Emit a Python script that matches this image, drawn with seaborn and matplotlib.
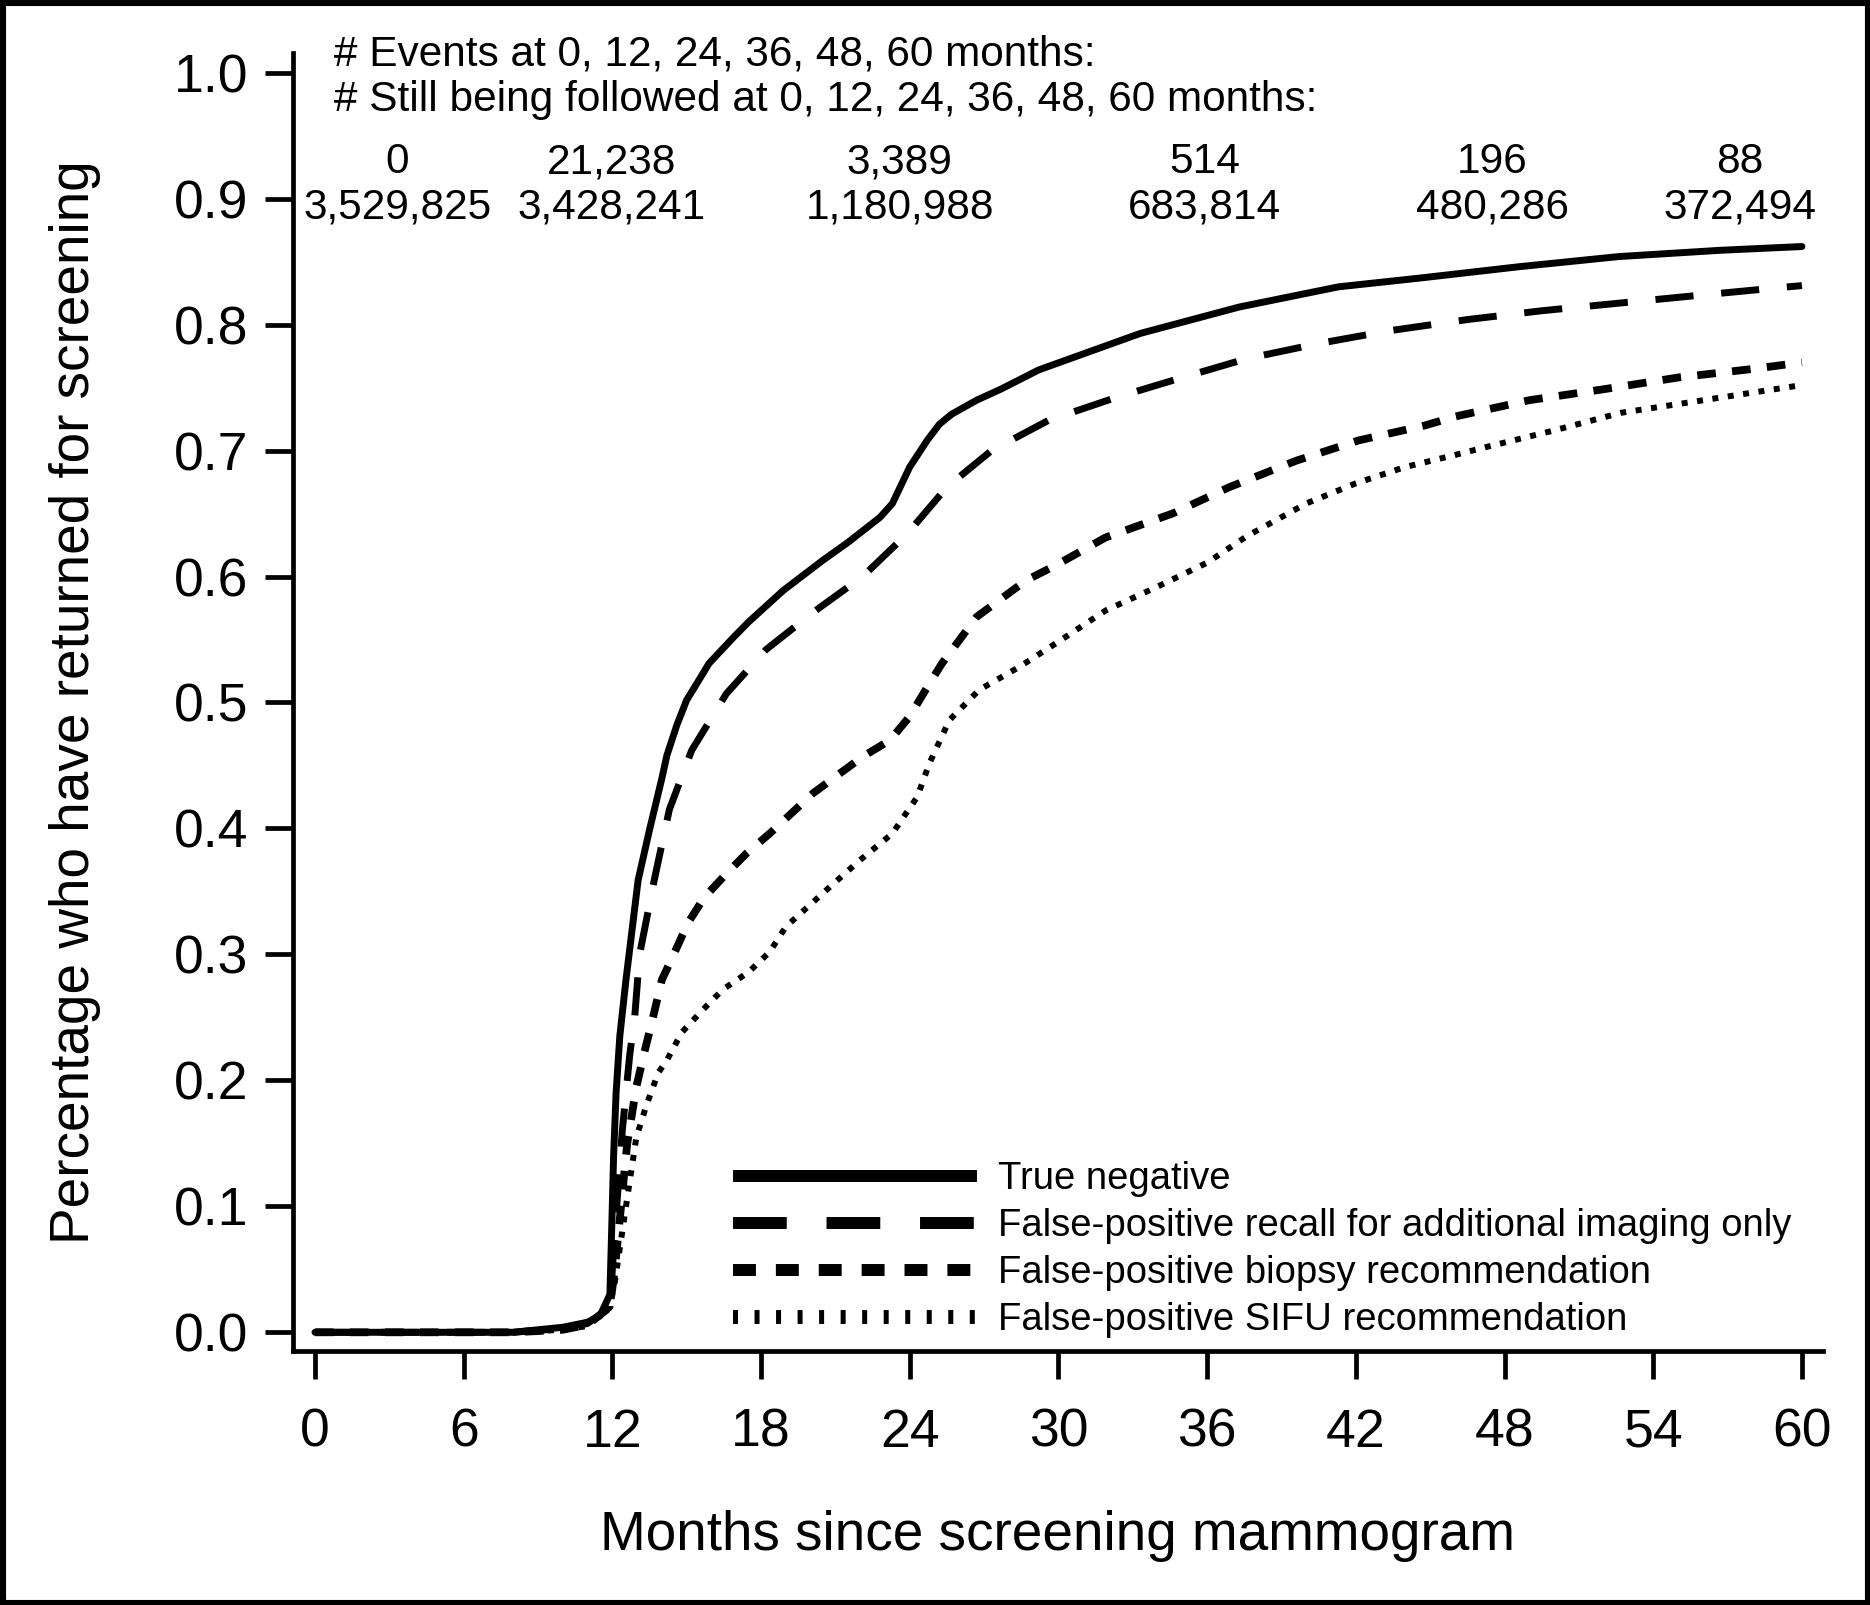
import numpy as np
import pandas as pd
import seaborn as sns
import matplotlib
matplotlib.use("Agg")
import matplotlib.pyplot as plt
from matplotlib.lines import Line2D
from matplotlib.patches import Rectangle

# data
tn_months = [0, 8, 9, 10, 11, 11.5, 11.9, 11.97, 12.05, 12.15, 12.3, 12.55, 13.04, 13.5, 14.0,
             14.2, 14.6, 15.0, 15.5, 15.9, 16.9, 17.5, 18.9, 20.5, 21.5, 22.8, 23.3, 24.0,
             24.7, 25.2, 25.7, 26.7, 27.7, 29.2, 33.3, 37.3, 41.3, 44.6, 48.6, 52.6, 56.7, 60]
tn_vals = [0, 0, 0.002, 0.004, 0.008, 0.013, 0.03, 0.08, 0.14, 0.19, 0.235, 0.28, 0.359,
           0.399, 0.44, 0.458, 0.482, 0.502, 0.518, 0.531, 0.552, 0.564, 0.589, 0.613,
           0.627, 0.647, 0.658, 0.687, 0.708, 0.721, 0.729, 0.740, 0.749, 0.764, 0.793,
           0.814, 0.830, 0.837, 0.846, 0.854, 0.859, 0.862]

rc_months = [0, 8, 10, 11, 11.9, 12.1, 12.4, 12.7, 12.9, 13.1, 13.7, 14.3, 15.2, 16.6, 18.2,
             20.2, 22.1, 23.9, 25.5, 27.3, 29.6, 32.3, 35.0, 37.6, 40.5, 43.3, 46.5, 49.5,
             52.6, 55.7, 58.9, 60]
rc_vals = [0, 0, 0.003, 0.007, 0.02, 0.08, 0.16, 0.22, 0.25, 0.30, 0.36, 0.415, 0.462,
           0.507, 0.542, 0.573, 0.600, 0.634, 0.671, 0.700, 0.724, 0.742, 0.758, 0.773,
           0.785, 0.795, 0.804, 0.811, 0.817, 0.823, 0.829, 0.831]

bx_months = [0, 8, 10, 11, 11.9, 12.1, 12.3, 12.6, 12.97, 13.3, 13.64, 14.0, 14.5, 15.05,
             15.7, 16.5, 17.4, 18.35, 20.1, 22.1, 23.2, 24.0, 24.7, 25.3, 26.7, 28.7, 29.9,
             31.9, 34.6, 36.9, 39.6, 42.1, 44.8, 46.0, 49.0, 52.1, 55.0, 58.1, 60]
bx_vals = [0, 0, 0.002, 0.006, 0.02, 0.05, 0.09, 0.15, 0.195, 0.223, 0.25, 0.28, 0.301,
           0.325, 0.345, 0.362, 0.380, 0.396, 0.428, 0.457, 0.470, 0.489, 0.512, 0.531,
           0.568, 0.597, 0.609, 0.631, 0.650, 0.671, 0.692, 0.708, 0.720, 0.727, 0.740,
           0.749, 0.758, 0.765, 0.770]

sf_months = [0, 8, 10, 11, 11.9, 12.1, 12.4, 12.7, 12.97, 13.37, 13.85, 14.2, 14.8, 15.6,
             16.45, 17.5, 18.35, 19.0, 20.8, 22.0, 23.3, 24.3, 24.8, 25.6, 26.8, 28.4, 29.9,
             31.9, 34.0, 36.0, 37.6, 40.0, 42.0, 44.0, 45.9, 47.3, 50.0, 52.7, 55.7, 58.0, 60]
sf_vals = [0, 0, 0.002, 0.005, 0.02, 0.04, 0.08, 0.12, 0.155, 0.180, 0.206, 0.216, 0.238,
           0.255, 0.272, 0.286, 0.302, 0.322, 0.354, 0.375, 0.396, 0.425, 0.452, 0.486,
           0.510, 0.528, 0.547, 0.573, 0.592, 0.611, 0.632, 0.658, 0.674, 0.687, 0.696,
           0.703, 0.716, 0.730, 0.739, 0.746, 0.752]

labels = ["True negative",
          "False-positive recall for additional imaging only",
          "False-positive biopsy recommendation",
          "False-positive SIFU recommendation"]

at_months = [0, 12, 24, 36, 48, 60]
events = ["0", "21,238", "3,389", "514", "196", "88"]
followed = ["3,529,825", "3,428,241", "1,180,988", "683,814", "480,286", "372,494"]

sns.set_style("ticks")
plt.rcParams['font.family'] = ['Liberation Sans', 'DejaVu Sans']
plt.rcParams['text.color'] = 'black'
plt.rcParams['axes.labelcolor'] = 'black'
plt.rcParams['axes.edgecolor'] = 'black'
plt.rcParams['xtick.color'] = 'black'
plt.rcParams['ytick.color'] = 'black'

fig = plt.figure(figsize=(18.7, 16.05), dpi=100)
ax = fig.add_axes([0.15668, 0.15826, 0.81818, 0.80872])

# line styles (dash tuples in units of linewidth)
styles = [(5.0, '-'), (5.0, (0, (5.5, 4.0))), (5.6, (0, (2.4, 2.1))), (4.3, (0, (1.0, 1.6)))]
series = [(tn_months, tn_vals), (rc_months, rc_vals), (bx_months, bx_vals), (sf_months, sf_vals)]

for (m, v), (lw, ls), lab in zip(series, styles, labels):
    df = pd.DataFrame({"month": m, "pct": v})
    sns.lineplot(data=df, x="month", y="pct", ax=ax, color="black", linewidth=lw,
                 linestyle=ls, legend=False)

ax.set_xlim(-0.887, 60.85)
ax.set_ylim(-0.01485, 1.01564)
ax.set_xticks(np.arange(0, 61, 6))
ax.set_yticks(np.arange(0, 1.01, 0.1))
ax.set_yticklabels([f"{t:.1f}" for t in np.arange(0, 1.01, 0.1)])
sns.despine(ax=ax)
for s in ["left", "bottom"]:
    ax.spines[s].set_linewidth(3.4)
ax.tick_params(axis="both", direction="out", length=20, width=3.4, colors="black",
               labelsize=38.5)
ax.tick_params(axis="x", pad=21)
ax.tick_params(axis="y", pad=12)

ax.set_xlabel("Months since screening mammogram", fontsize=39.5)
ax.set_ylabel("Percentage who have returned for screening", fontsize=39.5)
ax.xaxis.set_label_coords(0.5, -0.1225)
ax.yaxis.set_label_coords(-0.1256, 0.5)

# at-risk table
ax.text(0.77, 1.0146, "# Events at 0, 12, 24, 36, 48, 60 months:", fontsize=30.5,
        ha="left", va="center", clip_on=False)
ax.text(0.77, 0.9784, "# Still being followed at 0, 12, 24, 36, 48, 60 months:", fontsize=30.5,
        ha="left", va="center", clip_on=False)
label_x = [3.33, 11.97, 23.6, 35.9, 47.5, 57.5]
for xp, ev, fo in zip(label_x, events, followed):
    ax.text(xp, 0.929, ev, fontsize=30.5, ha="center", va="center")
    ax.text(xp, 0.893, fo, fontsize=30.5, ha="center", va="center")

# legend
handles = [
    Line2D([], [], color="black", lw=8.6, ls="-", solid_capstyle="butt"),
    Line2D([], [], color="black", lw=8.6, ls=(0, (4.5, 3.33))),
    Line2D([], [], color="black", lw=8.6, ls=(0, (1.92, 1.67))),
    Line2D([], [], color="black", lw=10, ls=(0, (0.36, 1.19))),
]
fig.legend(handles, labels, loc="upper left", bbox_to_anchor=(733 / 1870, 1 - 1161 / 1605),
           frameon=False, fontsize=27.5, handlelength=6.4, handletextpad=0.53,
           labelspacing=0.29, borderpad=0, borderaxespad=0)

fig.patches.append(Rectangle((0, 0), 1, 1, transform=fig.transFigure, fill=False,
                             edgecolor="black", lw=8))

fig.savefig("out.png", dpi=100)
